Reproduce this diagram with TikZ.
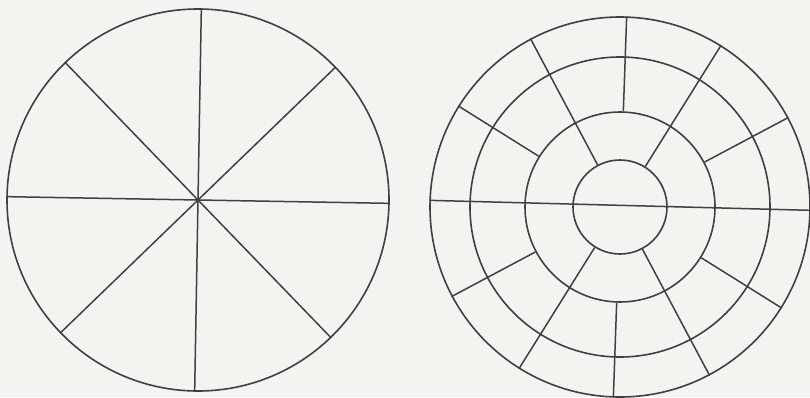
\documentclass[tikz,border=0pt]{standalone}
\begin{document}
\begin{tikzpicture}[x=1bp,y=1bp,
  ring/.style={circle,draw=linegray,line width=1.6bp,inner sep=0pt,fill=none},
  spoke/.style={draw=linegray,line width=1.5bp}]
\definecolor{linegray}{HTML}{404040}
\definecolor{paper}{HTML}{F3F3EF}
\fill[paper] (0,0) rectangle (810,397);
\useasboundingbox (0,0) rectangle (810,397);
% left circle
\node[ring,minimum size=382bp] (L) at (198,197) {};
\foreach \a in {-1,44,89,134,179,224,269,314}{
  \draw[spoke] (L.center) -- (L.\a);
}
% right circle
\node[ring,minimum size=380bp] (R1) at (620,190) {};
\node[ring,minimum size=300bp] (R2) at (620,190) {};
\node[ring,minimum size=190bp] (R3) at (620,190) {};
\node[ring,minimum size=94bp] (R4) at (620,190) {};
\draw[spoke] (R1.178.5) -- (R1.-1.5);
\foreach \a in {28.5,88.5,148.5,208.5,268.5,328.5}{
  \draw[spoke] (R3.\a) -- (R1.\a);
}
\foreach \a in {58.5,118.5,238.5,298.5}{
  \draw[spoke] (R4.\a) -- (R1.\a);
}
\end{tikzpicture}
\end{document}
